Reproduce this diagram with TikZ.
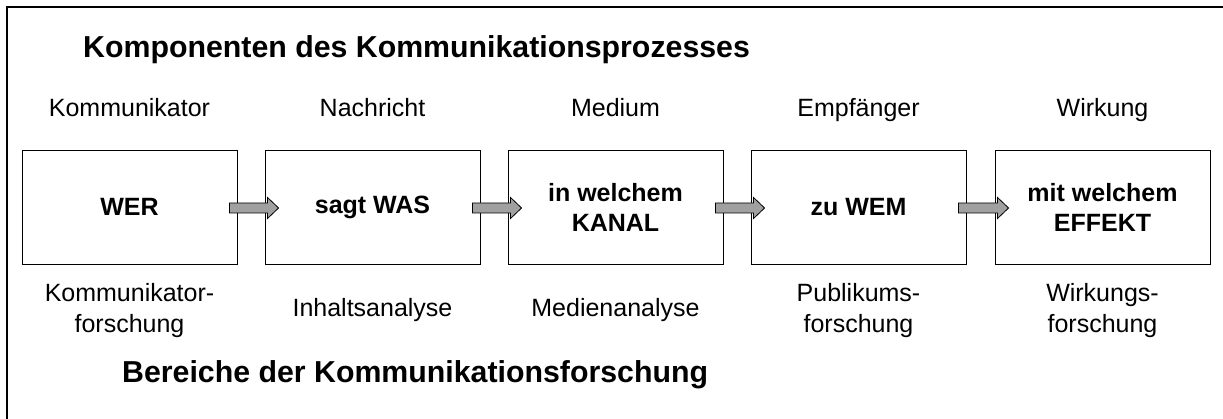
\documentclass[tikz,border=0pt]{standalone}
\usepackage{fontspec}
\setmainfont{Liberation Sans}
\usetikzlibrary{calc}
\definecolor{arrowgray}{RGB}{160,160,160}
% block arrow from one stage box into the next
\newcommand\flowarrow[2]{%
  \filldraw[flow] ($(#1.east)+(-8,-4)$) -- ($(#2.west)+(3,-4)$) -- ($(#2.west)+(3,-9.5)$)
    -- ($(#2.west)+(14,1)$) -- ($(#2.west)+(3,11.5)$) -- ($(#2.west)+(3,6)$)
    -- ($(#1.east)+(-8,6)$) -- cycle;}
\begin{document}
\begin{tikzpicture}[x=1pt,y=-1pt,
  stage/.style={draw, line width=0.9pt, minimum width=215pt, minimum height=114pt,
    inner sep=0pt, align=center, font=\fontsize{25}{30}\selectfont\bfseries},
  role/.style={anchor=base, inner sep=0pt, font=\fontsize{25}{30}\selectfont},
  field/.style={anchor=base, inner sep=0pt, font=\fontsize{25}{31}\selectfont},
  heading/.style={anchor=base west, inner sep=0pt, font=\fontsize{30.3}{36}\selectfont\bfseries},
  flow/.style={fill=arrowgray, draw, line width=0.8pt, line join=miter}]
\useasboundingbox (0,0) rectangle (1223,419);
% frame (left and top edges)
\draw[line width=2.2pt, line join=miter] (7,425) -- (7,7) -- (1230,7);

\node[heading] (h1) at (83,58) {Komponenten des Kommunikationsprozesses};
\node[heading] (h2) at (122,382) {Bereiche der Kommunikationsforschung};

% components
\node[role] (r1) at (129.5,117) {Kommunikator};
\node[role] (r2) at (372.5,117) {Nachricht};
\node[role] (r3) at (615.5,117) {Medium};
\node[role] (r4) at (858.5,117) {Empfänger};
\node[role] (r5) at (1102.5,117) {Wirkung};

% stages
\node[stage] (s1) at (129.5,207) {WER};
\node[stage] (s2) at (372.5,207) {sagt WAS};
\node[stage] (s3) at (615.5,207) {in welchem\\KANAL};
\node[stage] (s4) at (858.5,207) {zu WEM};
\node[stage] (s5) at (1102.5,207) {mit welchem\\EFFEKT};

\flowarrow{s1}{s2}
\flowarrow{s2}{s3}
\flowarrow{s3}{s4}
\flowarrow{s4}{s5}

% research fields
\node[field] (f1) at (129.5,302) {\begin{tabular}[t]{@{}c@{}}Kommunikator-\\forschung\end{tabular}};
\node[field] (f2) at (372.5,317) {Inhaltsanalyse};
\node[field] (f3) at (615.5,317) {Medienanalyse};
\node[field] (f4) at (858.5,302) {\begin{tabular}[t]{@{}c@{}}Publikums-\\forschung\end{tabular}};
\node[field] (f5) at (1102.5,302) {\begin{tabular}[t]{@{}c@{}}Wirkungs-\\forschung\end{tabular}};
\end{tikzpicture}
\end{document}
